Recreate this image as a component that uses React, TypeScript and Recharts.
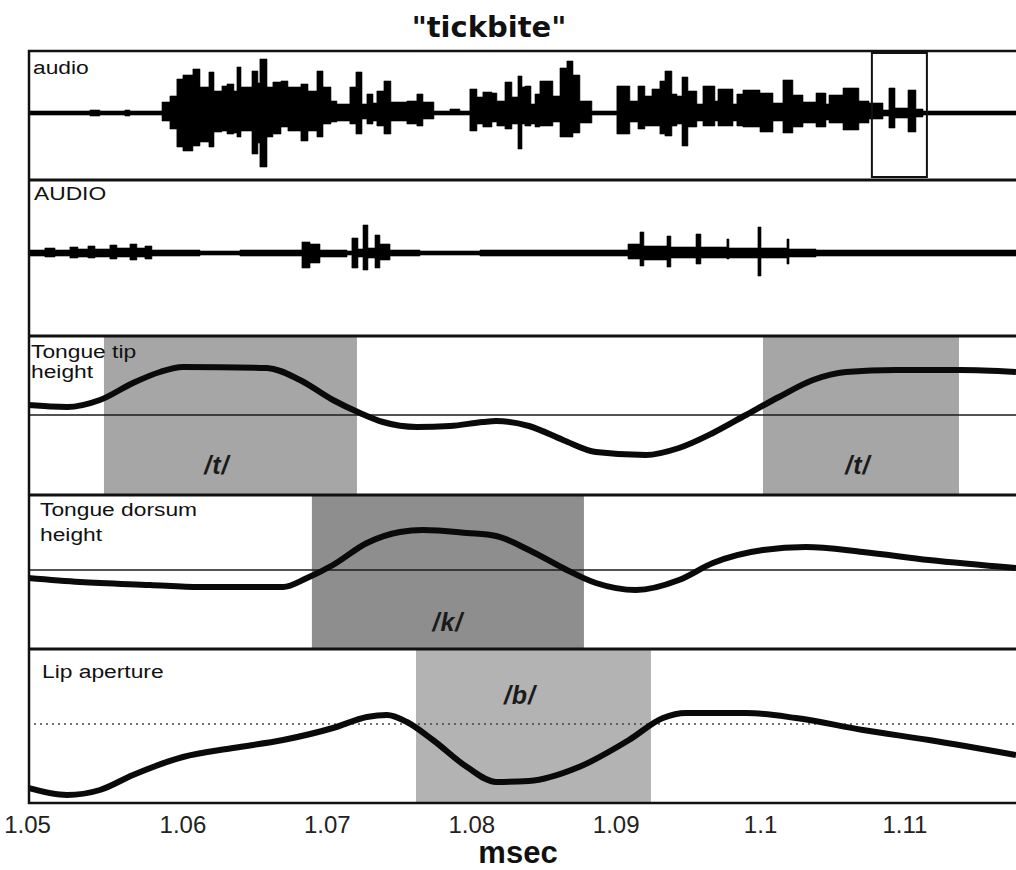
import React from 'react';
import {
  ComposedChart,
  Area,
  Line,
  XAxis,
  YAxis,
  ReferenceArea,
  ReferenceLine,
  ReferenceDot,
} from 'recharts';

// ---------- time axis (seconds) ----------
const T_START = 1.04927;
const T_END = 1.11769;
const xTicks = [1.05, 1.06, 1.07, 1.08, 1.09, 1.1, 1.11];
const xTickLabels = ['1.05', '1.06', '1.07', '1.08', '1.09', '1.1', '1.11'];

// ---------- panel 1: "audio" waveform envelope ----------
const audioTime = [
  1.04927, 1.05356, 1.05425, 1.05598, 1.05633, 1.05855, 1.0591, 1.05958, 1.06, 1.06069,
  1.06118, 1.0618, 1.06215, 1.0627, 1.06305, 1.06353, 1.06374, 1.06402, 1.06478, 1.06519,
  1.06533, 1.06582, 1.06623, 1.06679, 1.06727, 1.06817, 1.06866, 1.06928, 1.0697, 1.07025,
  1.07066, 1.07156, 1.07198, 1.0724, 1.07274, 1.07316, 1.07343, 1.07392, 1.0744, 1.07551,
  1.0762, 1.07662, 1.07738, 1.07849, 1.07918, 1.07987, 1.08036, 1.08077, 1.0814, 1.08174,
  1.0823, 1.08278, 1.0832, 1.08348, 1.08368, 1.0841, 1.08438, 1.08472, 1.08562, 1.08611,
  1.08659, 1.08701, 1.08749, 1.08832, 1.09005, 1.09095, 1.09151, 1.09199, 1.09248, 1.09303,
  1.09338, 1.09386, 1.09421, 1.09456, 1.09497, 1.09559, 1.09601, 1.09684, 1.09705, 1.09809,
  1.09836, 1.09878, 1.09996, 1.10086, 1.10155, 1.10224, 1.10294, 1.10384, 1.10453, 1.10474,
  1.10571, 1.10681, 1.10751, 1.10848, 1.10889, 1.10931, 1.11021, 1.11076, 1.11125, 1.11769,
];
const audioHigh = [
  2, 3, 2, 3, 2, 11, 17, 34, 38, 44,
  26, 41, 22, 27, 29, 22, 46, 26, 42, 30,
  54, 26, 31, 32, 26, 29, 22, 42, 26, 12,
  9, 26, 41, 9, 19, 10, 22, 32, 11, 12,
  19, 11, 2, 4, 2, 24, 16, 21, 20, 12,
  31, 16, 37, 26, 27, 9, 19, 32, 17, 45,
  52, 38, 12, 2, 27, 12, 27, 17, 24, 32,
  42, 19, 17, 36, 22, 9, 27, 12, 24, 9,
  19, 23, 20, 10, 33, 18, 11, 20, 9, 18,
  25, 12, 10, 3, 25, 5, 23, 4, 2, 2,
];
const audioLow = [
  -2, -3, -2, -3, -2, -8, -16, -34, -38, -33,
  -29, -34, -19, -18, -21, -20, -24, -18, -41, -30,
  -54, -24, -21, -14, -18, -28, -18, -24, -11, -9,
  -8, -11, -21, -6, -11, -8, -13, -21, -8, -11,
  -13, -6, -2, -2, -2, -18, -11, -14, -9, -13,
  -16, -11, -36, -11, -13, -11, -14, -13, -9, -24,
  -24, -20, -10, -2, -21, -9, -16, -13, -13, -21,
  -23, -13, -11, -33, -14, -8, -13, -8, -13, -8,
  -13, -14, -19, -8, -20, -14, -10, -14, -7, -10,
  -17, -10, -6, -3, -15, -5, -19, -4, -2, -2,
];

// ---------- panel 2: "AUDIO" waveform envelope ----------
const audio2Time = [
  1.04927, 1.05044, 1.05114, 1.05217, 1.05273, 1.05342, 1.05391, 1.05494, 1.05543, 1.05633,
  1.05681, 1.05737, 1.05785, 1.06118, 1.06395, 1.06824, 1.0688, 1.06949, 1.07136, 1.0717,
  1.07212, 1.07247, 1.07281, 1.0733, 1.07364, 1.07434, 1.07641, 1.08057, 1.08611, 1.09082,
  1.09165, 1.09192, 1.09352, 1.09379, 1.09553, 1.09587, 1.09767, 1.09781, 1.09982, 1.10003,
  1.10183, 1.10197, 1.10384, 1.11769,
];
const audio2High = [
  3, 5, 3, 6, 4, 7, 4, 8, 5, 9,
  5, 7, 3, 2, 3, 11, 9, 3, 2, 15,
  4, 28, 5, 18, 9, 3, 2, 3, 3, 9,
  21, 7, 17, 6, 19, 6, 14, 5, 26, 5,
  14, 4, 3, 3,
];
const audio2Low = [
  -3, -4, -3, -5, -4, -5, -4, -6, -4, -7,
  -4, -6, -3, -2, -3, -15, -10, -4, -2, -15,
  -4, -17, -5, -15, -7, -3, -2, -3, -3, -6,
  -13, -7, -14, -5, -11, -5, -6, -5, -23, -5,
  -11, -4, -3, -3,
];

// ---------- panel 3: tongue tip height ----------
const tipTime = [
  1.04927, 1.05197, 1.05425, 1.05654, 1.05841, 1.06, 1.06582, 1.0681, 1.07039, 1.07226,
  1.07385, 1.0762, 1.07849, 1.08077, 1.08168, 1.08396, 1.08632, 1.0886, 1.09206, 1.09435,
  1.0967, 1.09899, 1.10127, 1.10363, 1.10591, 1.10938, 1.11381, 1.11769,
];
const tipHeight = [
  10, 8, 15, 32, 43, 48, 47, 35, 15, 2,
  -7, -12, -11, -7, -6, -11, -25, -37, -40, -33,
  -18, 0, 18, 35, 43, 45, 45, 43,
];

// ---------- panel 4: tongue dorsum height ----------
const dorsumTime = [
  1.04927, 1.05287, 1.05771, 1.06118, 1.06693, 1.06859, 1.07039, 1.07274, 1.07503, 1.07662,
  1.07967, 1.08168, 1.08396, 1.08632, 1.0886, 1.09137, 1.09435, 1.0967, 1.10017, 1.10314,
  1.10709, 1.11166, 1.11769,
];
const dorsumHeight = [
  -8, -12, -15, -17, -17, -8, 5, 27, 38, 40,
  37, 34, 20, 2, -13, -20, -10, 7, 20, 23,
  18, 10, 2,
];

// ---------- panel 5: lip aperture ----------
const lipTime = [
  1.04927, 1.05197, 1.05425, 1.05654, 1.06, 1.06346, 1.06693, 1.07039, 1.07274, 1.07413,
  1.07551, 1.07731, 1.07967, 1.08168, 1.08396, 1.08742, 1.09089, 1.09324, 1.09483, 1.09899,
  1.10245, 1.10709, 1.11166, 1.11769,
];
const lipAperture = [
  -64, -71, -66, -51, -33, -24, -16, -4, 7, 9,
  2, -16, -43, -58, -57, -43, -16, 6, 11, 11,
  6, -6, -16, -31,
];

// ---------- gestures (shaded intervals) ----------
const tipGestures = [
  { from: 1.05453, to: 1.07205, label: '/t/', labelT: 1.06235, labelY: -50 },
  { from: 1.10017, to: 1.11374, label: '/t/', labelT: 1.10674, labelY: -50 },
];
const dorsumGestures = [{ from: 1.06893, to: 1.08777, label: '/k/', labelT: 1.07835, labelY: -52 }];
const lipGestures = [{ from: 1.07614, to: 1.09241, label: '/b/', labelT: 1.08334, labelY: 29 }];
const audioWindow = { from: 1.10771, to: 1.11152, low: -64, high: 60 };

// ---------- derived rows ----------
const audioRows = audioTime.map((t, i) => ({ t, r: [audioLow[i], audioHigh[i]] }));
const audio2Rows = audio2Time.map((t, i) => ({ t, r: [audio2Low[i], audio2High[i]] }));
const tipRows = tipTime.map((t, i) => ({ t, v: tipHeight[i] }));
const dorsumRows = dorsumTime.map((t, i) => ({ t, v: dorsumHeight[i] }));
const lipRows = lipTime.map((t, i) => ({ t, v: lipAperture[i] }));

const FONT = '"Liberation Sans", Arial, sans-serif';
const W = 1016;
const margin = { top: 0, right: 0, bottom: 0, left: 28 };

const phonemeLabel = (text: string) => ({
  value: text,
  position: 'center' as const,
  style: {
    fontFamily: FONT,
    fontWeight: 'bold',
    fontStyle: 'italic',
    fontSize: 25,
    letterSpacing: 1,
    fill: '#1a1a1a',
  },
});

const XTick = (props: any) => {
  const { x, y, payload } = props;
  const i = xTicks.indexOf(payload.value);
  return (
    <text
      x={x + (i === 0 ? -11 : 0)}
      y={y}
      dy={22}
      textAnchor="middle"
      fontFamily={FONT}
      fontSize={24}
      fill="#222"
    >
      {xTickLabels[i] ?? String(payload.value)}
    </text>
  );
};

const xAxisHidden = (
  <XAxis dataKey="t" type="number" domain={[T_START, T_END]} hide allowDataOverflow />
);

export default function App() {
  const panelLabel = { fontFamily: FONT, fontSize: 19, fill: '#111' };
  return (
    <div
      style={{
        position: 'absolute',
        left: 0,
        top: 0,
        width: 1016,
        height: 870,
        background: '#fff',
        overflow: 'hidden',
      }}
    >
      {/* panel 1: audio */}
      <div style={{ position: 'absolute', left: 0, top: 51 }}>
        <ComposedChart width={W} height={129} data={audioRows} margin={margin}>
          {xAxisHidden}
          <YAxis type="number" domain={[-67, 62]} hide allowDataOverflow />
          <Area
            dataKey="r"
            type="stepAfter"
            fill="#000"
            fillOpacity={1}
            stroke="#000"
            strokeWidth={0.6}
            isAnimationActive={false}
            dot={false}
            activeDot={false}
          />
          <ReferenceArea
            x1={audioWindow.from}
            x2={audioWindow.to}
            y1={audioWindow.low}
            y2={audioWindow.high}
            fill="none"
            fillOpacity={0}
            stroke="#111"
            strokeWidth={2}
            strokeOpacity={1}
          />
        </ComposedChart>
      </div>

      {/* panel 2: AUDIO */}
      <div style={{ position: 'absolute', left: 0, top: 180 }}>
        <ComposedChart width={W} height={155} data={audio2Rows} margin={margin}>
          {xAxisHidden}
          <YAxis type="number" domain={[-82, 73]} hide allowDataOverflow />
          <Area
            dataKey="r"
            type="stepAfter"
            fill="#000"
            fillOpacity={1}
            stroke="#000"
            strokeWidth={0.6}
            isAnimationActive={false}
            dot={false}
            activeDot={false}
          />
        </ComposedChart>
      </div>

      {/* panel 3: tongue tip height */}
      <div style={{ position: 'absolute', left: 0, top: 335 }}>
        <ComposedChart width={W} height={160} data={tipRows} margin={margin}>
          {xAxisHidden}
          <YAxis type="number" domain={[-80, 80]} hide allowDataOverflow />
          {tipGestures.map((g, i) => (
            <ReferenceArea key={i} x1={g.from} x2={g.to} fill="#a6a6a6" fillOpacity={1} stroke="none" />
          ))}
          <ReferenceLine y={0} stroke="#1a1a1a" strokeWidth={1.5} />
          <Line
            dataKey="v"
            type="monotone"
            stroke="#0a0a0a"
            strokeWidth={6}
            dot={false}
            activeDot={false}
            isAnimationActive={false}
          />
          {tipGestures.map((g, i) => (
            <ReferenceDot
              key={'l' + i}
              x={g.labelT}
              y={g.labelY}
              r={1}
              fill="none"
              stroke="none"
              label={phonemeLabel(g.label)}
            />
          ))}
        </ComposedChart>
      </div>

      {/* panel 4: tongue dorsum height */}
      <div style={{ position: 'absolute', left: 0, top: 495 }}>
        <ComposedChart width={W} height={154} data={dorsumRows} margin={margin}>
          {xAxisHidden}
          <YAxis type="number" domain={[-79, 75]} hide allowDataOverflow />
          {dorsumGestures.map((g, i) => (
            <ReferenceArea key={i} x1={g.from} x2={g.to} fill="#8e8e8e" fillOpacity={1} stroke="none" />
          ))}
          <ReferenceLine y={0} stroke="#1a1a1a" strokeWidth={1.5} />
          <Line
            dataKey="v"
            type="monotone"
            stroke="#0a0a0a"
            strokeWidth={6}
            dot={false}
            activeDot={false}
            isAnimationActive={false}
          />
          {dorsumGestures.map((g, i) => (
            <ReferenceDot
              key={'l' + i}
              x={g.labelT}
              y={g.labelY}
              r={1}
              fill="none"
              stroke="none"
              label={phonemeLabel(g.label)}
            />
          ))}
        </ComposedChart>
      </div>

      {/* panel 5: lip aperture + time axis */}
      <div style={{ position: 'absolute', left: 0, top: 649 }}>
        <ComposedChart width={W} height={154 + 50} data={lipRows} margin={margin}>
          <XAxis
            dataKey="t"
            type="number"
            domain={[T_START, T_END]}
            allowDataOverflow
            ticks={xTicks}
            tick={<XTick />}
            axisLine={false}
            tickLine={false}
            height={50}
            interval={0}
          />
          <YAxis type="number" domain={[-79, 75]} hide allowDataOverflow />
          {lipGestures.map((g, i) => (
            <ReferenceArea key={i} x1={g.from} x2={g.to} fill="#b3b3b3" fillOpacity={1} stroke="none" />
          ))}
          <ReferenceLine y={0} stroke="#444" strokeWidth={1.5} strokeDasharray="2 4" />
          <Line
            dataKey="v"
            type="monotone"
            stroke="#0a0a0a"
            strokeWidth={6}
            dot={false}
            activeDot={false}
            isAnimationActive={false}
          />
          {lipGestures.map((g, i) => (
            <ReferenceDot
              key={'l' + i}
              x={g.labelT}
              y={g.labelY}
              r={1}
              fill="none"
              stroke="none"
              label={phonemeLabel(g.label)}
            />
          ))}
        </ComposedChart>
      </div>

      {/* frame, title and panel labels */}
      <svg
        width={1016}
        height={870}
        style={{ position: 'absolute', left: 0, top: 0, pointerEvents: 'none' }}
      >
        <text
          x={489}
          y={37}
          textAnchor="middle"
          fontFamily='"DejaVu Sans", sans-serif'
          fontWeight="bold"
          fontSize={29}
          fill="#111"
        >
          "tickbite"
        </text>
        {[51, 180, 336, 495, 649, 803].map((y) => (
          <line key={y} x1={28} x2={1016} y1={y} y2={y} stroke="#111" strokeWidth={y === 51 || y === 803 ? 2.5 : 3} />
        ))}
        <line x1={29} x2={29} y1={50} y2={804} stroke="#111" strokeWidth={2.5} />

        <text transform="translate(33,74) scale(1.2,1)" {...panelLabel}>audio</text>
        <text transform="translate(34,200) scale(1.2,1)" {...panelLabel}>AUDIO</text>
        <text transform="translate(31,358) scale(1.2,1)" {...panelLabel}>Tongue tip</text>
        <text transform="translate(31,378) scale(1.2,1)" {...panelLabel}>height</text>
        <text transform="translate(40,516) scale(1.2,1)" {...panelLabel}>Tongue dorsum</text>
        <text transform="translate(40,541) scale(1.2,1)" {...panelLabel}>height</text>
        <text transform="translate(42,678) scale(1.2,1)" {...panelLabel}>Lip aperture</text>

        <text
          x={518}
          y={863}
          textAnchor="middle"
          fontFamily={FONT}
          fontWeight="bold"
          fontSize={31}
          fill="#111"
        >
          msec
        </text>
      </svg>
    </div>
  );
}
